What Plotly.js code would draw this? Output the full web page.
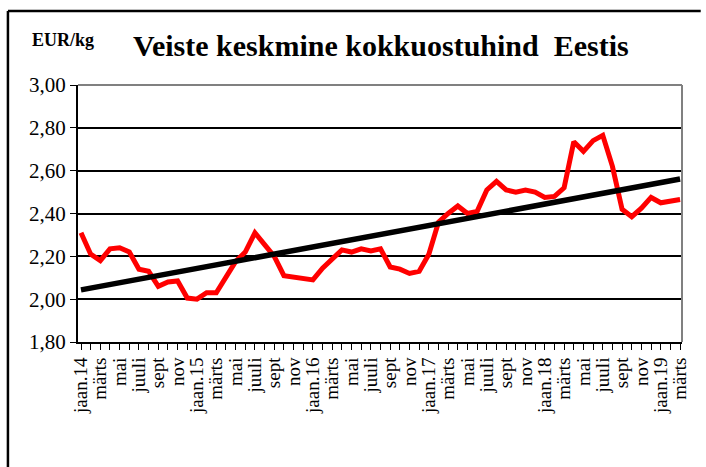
<!DOCTYPE html>
<html>
<head>
<meta charset="utf-8">
<script src="https://cdn.plot.ly/plotly-3.0.1.min.js"></script>
<style>
  html, body { margin: 0; padding: 0; background: #fff; }
  #chart { width: 706px; height: 467px; }
</style>
</head>
<body>
<div id="chart"></div>
<script>
// Monthly labels Jan 2014 .. Mar 2019 (shown every second month)
const monthLabels = [
  "jaan.14","veebr","märts","apr","mai","juuni","juuli","aug","sept","okt","nov","dets",
  "jaan.15","veebr","märts","apr","mai","juuni","juuli","aug","sept","okt","nov","dets",
  "jaan.16","veebr","märts","apr","mai","juuni","juuli","aug","sept","okt","nov","dets",
  "jaan.17","veebr","märts","apr","mai","juuni","juuli","aug","sept","okt","nov","dets",
  "jaan.18","veebr","märts","apr","mai","juuni","juuli","aug","sept","okt","nov","dets",
  "jaan.19","veebr","märts"
];

// Average purchase price of cattle, EUR/kg
const prices = [
  2.31, 2.21, 2.18, 2.235, 2.24, 2.22, 2.14, 2.13, 2.06, 2.08, 2.085, 2.005,
  2.00, 2.03, 2.03, 2.105, 2.175, 2.22, 2.31, 2.255, 2.20, 2.11, 2.105, 2.10,
  2.09, 2.145, 2.19, 2.23, 2.22, 2.235, 2.225, 2.235, 2.15, 2.14, 2.12, 2.13,
  2.21, 2.36, 2.40, 2.435, 2.40, 2.41, 2.51, 2.55, 2.51, 2.50, 2.51, 2.50,
  2.475, 2.48, 2.52, 2.735, 2.69, 2.74, 2.765, 2.62, 2.42, 2.385, 2.425, 2.475,
  2.45, 2.455, 2.465
];

const yTicks = [1.8, 2.0, 2.2, 2.4, 2.6, 2.8, 3.0];
const yTickText = ["1,80","2,00","2,20","2,40","2,60","2,80","3,00"];

const xIdx = prices.map((_, i) => i);

// Linear trend (least squares), as in the spreadsheet trendline
const n = prices.length;
const mx = xIdx.reduce((a, b) => a + b, 0) / n;
const my = prices.reduce((a, b) => a + b, 0) / n;
let sxy = 0, sxx = 0;
for (let i = 0; i < n; i++) { sxy += (xIdx[i] - mx) * (prices[i] - my); sxx += (xIdx[i] - mx) ** 2; }
const slope = sxy / sxx;
const intercept = my - slope * mx;
const trend = xIdx.map(x => intercept + slope * x);

const tickVals = xIdx.filter(i => i % 2 === 0);
const tickText = tickVals.map(i => monthLabels[i]);

const serif = "Liberation Serif";

const data = [
  {
    x: xIdx, y: prices, type: "scatter", mode: "lines",
    line: { color: "#ff0000", width: 5 }, hoverinfo: "skip"
  },
  {
    x: xIdx, y: trend, type: "scatter", mode: "lines",
    line: { color: "#000000", width: 5.5 }, hoverinfo: "skip"
  }
];

const layout = {
  width: 706, height: 467,
  margin: { l: 78, r: 24, t: 85, b: 125 },
  paper_bgcolor: "#ffffff", plot_bgcolor: "#ffffff",
  showlegend: false,
  font: { family: serif, color: "#000" },
  xaxis: {
    range: [-0.31, 62.2],
    tickmode: "array", tickvals: tickVals, ticktext: tickText,
    tickangle: -90,
    tickfont: { family: serif, size: 19, color: "#000" },
    ticks: "outside", ticklen: 6, tickwidth: 1, tickcolor: "#000",
    minor: { ticks: "outside", dtick: 1, tick0: 0, ticklen: 6, tickwidth: 1, tickcolor: "#000", showgrid: false },
    showgrid: false, zeroline: false,
    showline: true, linecolor: "#000", linewidth: 2,
    fixedrange: true
  },
  yaxis: {
    range: [1.8, 3.0],
    tickmode: "array", tickvals: yTicks, ticktext: yTickText,
    tickfont: { family: serif, size: 21, color: "#000" },
    ticks: "outside", ticklen: 6, tickwidth: 1, tickcolor: "#000",
    showgrid: true, gridcolor: "#000", gridwidth: 2,
    zeroline: false,
    showline: true, linecolor: "#000", linewidth: 2,
    fixedrange: true
  },
  shapes: [
    { type: "line", xref: "paper", yref: "paper", x0: 0, x1: 1, y0: 1, y1: 1,
      line: { color: "#808080", width: 2 } },
    { type: "line", xref: "paper", yref: "paper", x0: 1, x1: 1, y0: 0, y1: 1,
      line: { color: "#808080", width: 2 } },
    { type: "line", xref: "paper", yref: "paper", x0: -0.116, x1: 1.031, y0: 1.288, y1: 1.288,
      line: { color: "#000", width: 2.5 } },
    { type: "line", xref: "paper", yref: "paper", x0: -0.116, x1: -0.116, y0: 1.288, y1: -0.6,
      line: { color: "#000", width: 2.5 } }
  ],
  annotations: [
    { text: "<b>Veiste keskmine kokkuostuhind  Eestis</b>", xref: "paper", yref: "paper",
      x: 0.502, y: 1.155, xanchor: "center", yanchor: "middle", showarrow: false,
      font: { family: serif, size: 30, color: "#000" } },
    { text: "<b>EUR/kg</b>", xref: "paper", yref: "paper",
      x: -0.08, y: 1.175, xanchor: "left", yanchor: "middle", showarrow: false,
      font: { family: serif, size: 18, color: "#000" } }
  ]
};

Plotly.newPlot("chart", data, layout, { staticPlot: true, displayModeBar: false });
</script>
</body>
</html>
